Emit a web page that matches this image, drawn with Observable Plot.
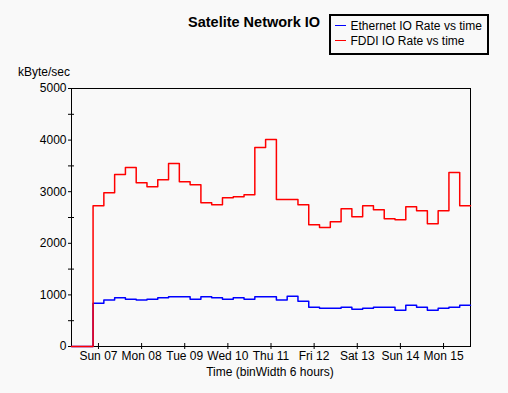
<!DOCTYPE html>
<html>
<head>
<meta charset="utf-8">
<script src="https://cdn.jsdelivr.net/npm/d3@7"></script>
<script src="https://cdn.jsdelivr.net/npm/@observablehq/plot@0.6"></script>
<style>
  html, body { margin: 0; padding: 0; background: #f9f9f9; }
  #wrap { position: relative; width: 508px; height: 393px; background: #f9f9f9; font-family: "Liberation Sans", Arial, sans-serif; color: #000; overflow: hidden; }
  #wrap svg { position: absolute; left: 0; top: 0; }
  .t { position: absolute; white-space: nowrap; line-height: 1; }
</style>
</head>
<body>
<div id="wrap"></div>
<script>
// Time in hours relative to Sun 07 00:00; bins of 6 hours
const binStart = -15;
const binWidth = 6;
const ethernet = [0, 0, 840, 899, 944, 918, 899, 918, 944, 963, 963, 918, 963, 944, 918, 944, 918, 963, 963, 899, 976, 879, 763, 743, 743, 763, 724, 743, 763, 763, 704, 801, 763, 704, 743, 763, 801];
const fddi = [0, 0, 2728, 2981, 3331, 3467, 3175, 3097, 3233, 3545, 3195, 3136, 2786, 2747, 2883, 2903, 2942, 3856, 4012, 2850, 2850, 2747, 2358, 2305, 2416, 2669, 2514, 2728, 2650, 2475, 2455, 2708, 2630, 2377, 2630, 3370, 2728];
const dayHours = [0, 24, 48, 72, 96, 120, 144, 168, 192];
const dayLabels = ["Sun 07", "Mon 08", "Tue 09", "Wed 10", "Thu 11", "Fri 12", "Sat 13", "Sun 14", "Mon 15"];
const yMajor = [0, 1000, 2000, 3000, 4000, 5000];
const yMinor = [500, 1500, 2500, 3500, 4500];
const seriesNames = ["Ethernet IO Rate vs time", "FDDI IO Rate vs time"];
const seriesColors = ["#0000ff", "#ff0000"];

function toSteps(vals) {
  const pts = vals.map((v, i) => ({t: binStart + i * binWidth, v}));
  pts.push({t: binStart + vals.length * binWidth, v: vals[vals.length - 1]});
  return pts;
}
const xEnd = binStart + fddi.length * binWidth;

const chart = Plot.plot({
  width: 508,
  height: 393,
  marginLeft: 71,
  marginRight: 38,
  marginTop: 88,
  marginBottom: 47,
  style: {background: "transparent", fontFamily: "'Liberation Sans', Arial, sans-serif", fontSize: "12px", color: "#000"},
  x: {type: "linear", domain: [binStart, xEnd], axis: null},
  y: {domain: [0, 5000], axis: null},
  marks: [
    Plot.frame({stroke: "#000", strokeWidth: 1}),
    Plot.axisY({ticks: yMajor, tickFormat: d => String(d), tickSize: 3, tickPadding: 2, label: null, stroke: "#000", fill: "#000"}),
    Plot.axisY({ticks: yMinor, tickSize: 6, dx: 3, tickFormat: () => "", label: null, stroke: "#000"}),
    Plot.axisX({ticks: dayHours, tickFormat: d => dayLabels[dayHours.indexOf(d)], tickSize: 6, dy: -3, tickPadding: 2, label: null, stroke: "#000", fill: "#000"}),
    Plot.line(toSteps(ethernet), {x: "t", y: "v", curve: "step-after", stroke: seriesColors[0], strokeWidth: 1.5}),
    Plot.line(toSteps(fddi), {x: "t", y: "v", curve: "step-after", stroke: seriesColors[1], strokeWidth: 1.5})
  ]
});

const wrap = document.getElementById("wrap");
wrap.appendChild(chart);

function addText(txt, left, top, size, extra) {
  const d = document.createElement("div");
  d.className = "t";
  d.textContent = txt;
  d.style.left = left + "px";
  d.style.top = top + "px";
  d.style.fontSize = size + "px";
  if (extra) Object.assign(d.style, extra);
  wrap.appendChild(d);
  return d;
}
// Title
addText("Satelite Network IO", 188, 15, 14.5, {fontWeight: "bold"});
// Y axis label
addText("kByte/sec", 18, 66, 12);
// X axis label
addText("Time (binWidth 6 hours)", 170, 365.5, 12, {width: "200px", textAlign: "center"});

// Legend box
const box = document.createElement("div");
Object.assign(box.style, {position: "absolute", left: "329px", top: "14px", width: "160px", height: "41px", border: "2px solid #000", boxSizing: "border-box"});
wrap.appendChild(box);
seriesNames.forEach((name, i) => {
  const ly = [25.5, 40][i];
  const ln = document.createElement("div");
  Object.assign(ln.style, {position: "absolute", left: "335px", top: (ly - 0.5) + "px", width: "11px", height: "1px", background: seriesColors[i]});
  wrap.appendChild(ln);
  addText(name, 350.5, [19.7, 34.7][i], 12);
});
</script>
</body>
</html>
